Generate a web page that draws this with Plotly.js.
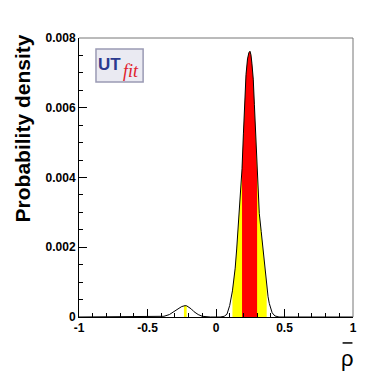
<!DOCTYPE html>
<html>
<head>
<meta charset="utf-8">
<script src="https://cdn.plot.ly/plotly-3.0.1.min.js"></script>
<style>
  body { margin: 0; background: #fff; }
  #plot { width: 392px; height: 374px; }
</style>
</head>
<body>
<div id="plot"></div>
<script>
// rho-bar posterior
var rho = [-1.0, -0.5, -0.42, -0.38, -0.34, -0.30, -0.27, -0.25, -0.234, -0.226, -0.214, -0.20, -0.18, -0.16, -0.13, -0.10, -0.07, -0.04,
  0.03, 0.06, 0.08, 0.10, 0.12, 0.131, 0.14, 0.151, 0.16, 0.17, 0.18, 0.19, 0.20, 0.207, 0.219, 0.23, 0.24, 0.248,
  0.255, 0.262, 0.272, 0.28, 0.29, 0.30, 0.31, 0.316, 0.33, 0.341, 0.352, 0.363, 0.37, 0.38, 0.389, 0.40, 0.41, 0.43, 0.46, 1.0];
var density = [0, 0, 0.000005, 0.00002, 0.00007, 0.00016, 0.00025, 0.00030, 0.00032, 0.000325, 0.00032, 0.00029, 0.00023, 0.00015, 0.00007, 0.00002, 0.000005, 0,
  0, 0.00002, 0.00008, 0.00033, 0.00075, 0.00106, 0.00140, 0.00195, 0.00245, 0.00300, 0.00358, 0.00425, 0.00525, 0.00600, 0.00695, 0.00740, 0.00758, 0.00762,
  0.00752, 0.00728, 0.00682, 0.00610, 0.00510, 0.00410, 0.00335, 0.00297, 0.00245, 0.00202, 0.00152, 0.00106, 0.00085, 0.00058, 0.00039, 0.00022, 0.00012, 0.00003, 0, 0];

// probability regions (68% red, 95% yellow)
var yellowRanges = [[-0.234, -0.214], [0.12, 0.37]];
var redRanges = [[0.19, 0.30]];

var xTickVals = [-1, -0.5, 0, 0.5, 1];
var xTickText = ["-1", "-0.5", "0", "0.5", "1"];
var yTickVals = [0, 0.002, 0.004, 0.006, 0.008];
var yTickText = ["0", "0.002", "0.004", "0.006", "0.008"];

function band(lo, hi, color) {
  var xs = [], ys = [];
  for (var i = 0; i < rho.length; i++) {
    if (rho[i] >= lo - 1e-9 && rho[i] <= hi + 1e-9) {
      xs.push(rho[i]);
      ys.push(density[i]);
    }
  }
  return {x: xs, y: ys, type: "scatter", mode: "lines", fill: "tozeroy",
    fillcolor: color, line: {width: 0, color: color}, hoverinfo: "skip", showlegend: false};
}

var data = [];
yellowRanges.forEach(function(r) { data.push(band(r[0], r[1], "#ffff00")); });
redRanges.forEach(function(r) { data.push(band(r[0], r[1], "#ff0000")); });
data.push({x: rho, y: density, type: "scatter", mode: "lines",
  line: {color: "#000", width: 1}, showlegend: false});

var tickFont = {family: "Liberation Sans, Arial, sans-serif", size: 12, color: "#000", weight: "bold"};

var layout = {
  width: 392, height: 374,
  margin: {l: 79, r: 39, t: 38, b: 57},
  paper_bgcolor: "#fff", plot_bgcolor: "#fff",
  showlegend: false,
  xaxis: {
    range: [-1, 1], showgrid: false, zeroline: false,
    showline: true, linecolor: "#000", linewidth: 1,
    ticks: "inside", ticklen: 8, tickcolor: "#000",
    tickvals: xTickVals, ticktext: xTickText, tickfont: tickFont,
    minor: {dtick: 0.1, ticks: "inside", ticklen: 4, tickcolor: "#000", showgrid: false}
  },
  yaxis: {
    range: [0, 0.008], showgrid: false, zeroline: false,
    showline: true, linecolor: "#000", linewidth: 1,
    ticks: "inside", ticklen: 8, tickcolor: "#000",
    tickvals: yTickVals, ticktext: yTickText, tickfont: tickFont,
    minor: {dtick: 0.0005, ticks: "inside", ticklen: 4, tickcolor: "#000", showgrid: false}
  },
  shapes: [
    // frame top and right
    {type: "line", xref: "paper", yref: "paper", x0: 0, x1: 1, y0: 1, y1: 1, line: {color: "#777", width: 1}},
    {type: "line", xref: "paper", yref: "paper", x0: 1, x1: 1, y0: 0, y1: 1, line: {color: "#777", width: 1}},
    // logo box
    {type: "rect", xref: "paper", yref: "paper", x0: 0.062, x1: 0.234, y0: 0.842, y1: 0.961,
      fillcolor: "#eaeaf2", line: {color: "#9a9ab4", width: 1.5}},
    // bar over rho
    {type: "line", xref: "paper", yref: "paper", x0: 0.962, x1: 0.998, y0: -0.093, y1: -0.093,
      line: {color: "#000", width: 1.5}}
  ],
  annotations: [
    {text: "Probability density", xref: "paper", yref: "paper", x: -0.208, y: 1.02,
      xanchor: "center", yanchor: "top", textangle: -90, showarrow: false,
      font: {family: "Liberation Sans, Arial, sans-serif", size: 21, color: "#000", weight: "bold"}},
    {text: "ρ", xref: "paper", yref: "paper", x: 0.98, y: -0.098,
      xanchor: "center", yanchor: "top", showarrow: false,
      font: {family: "Liberation Sans, Arial, sans-serif", size: 22, color: "#000"}},
    {text: "<b>UT</b>", xref: "paper", yref: "paper", x: 0.062, y: 0.905,
      xanchor: "left", yanchor: "middle", showarrow: false,
      font: {family: "Liberation Sans, Arial, sans-serif", size: 17, color: "#2b3a8f"}},
    {text: "<i>fit</i>", xref: "paper", yref: "paper", x: 0.152, y: 0.88,
      xanchor: "left", yanchor: "middle", showarrow: false,
      font: {family: "Liberation Serif, Times New Roman, serif", size: 18, color: "#e0202a"}}
  ]
};

Plotly.newPlot("plot", data, layout, {staticPlot: true});
</script>
</body>
</html>
